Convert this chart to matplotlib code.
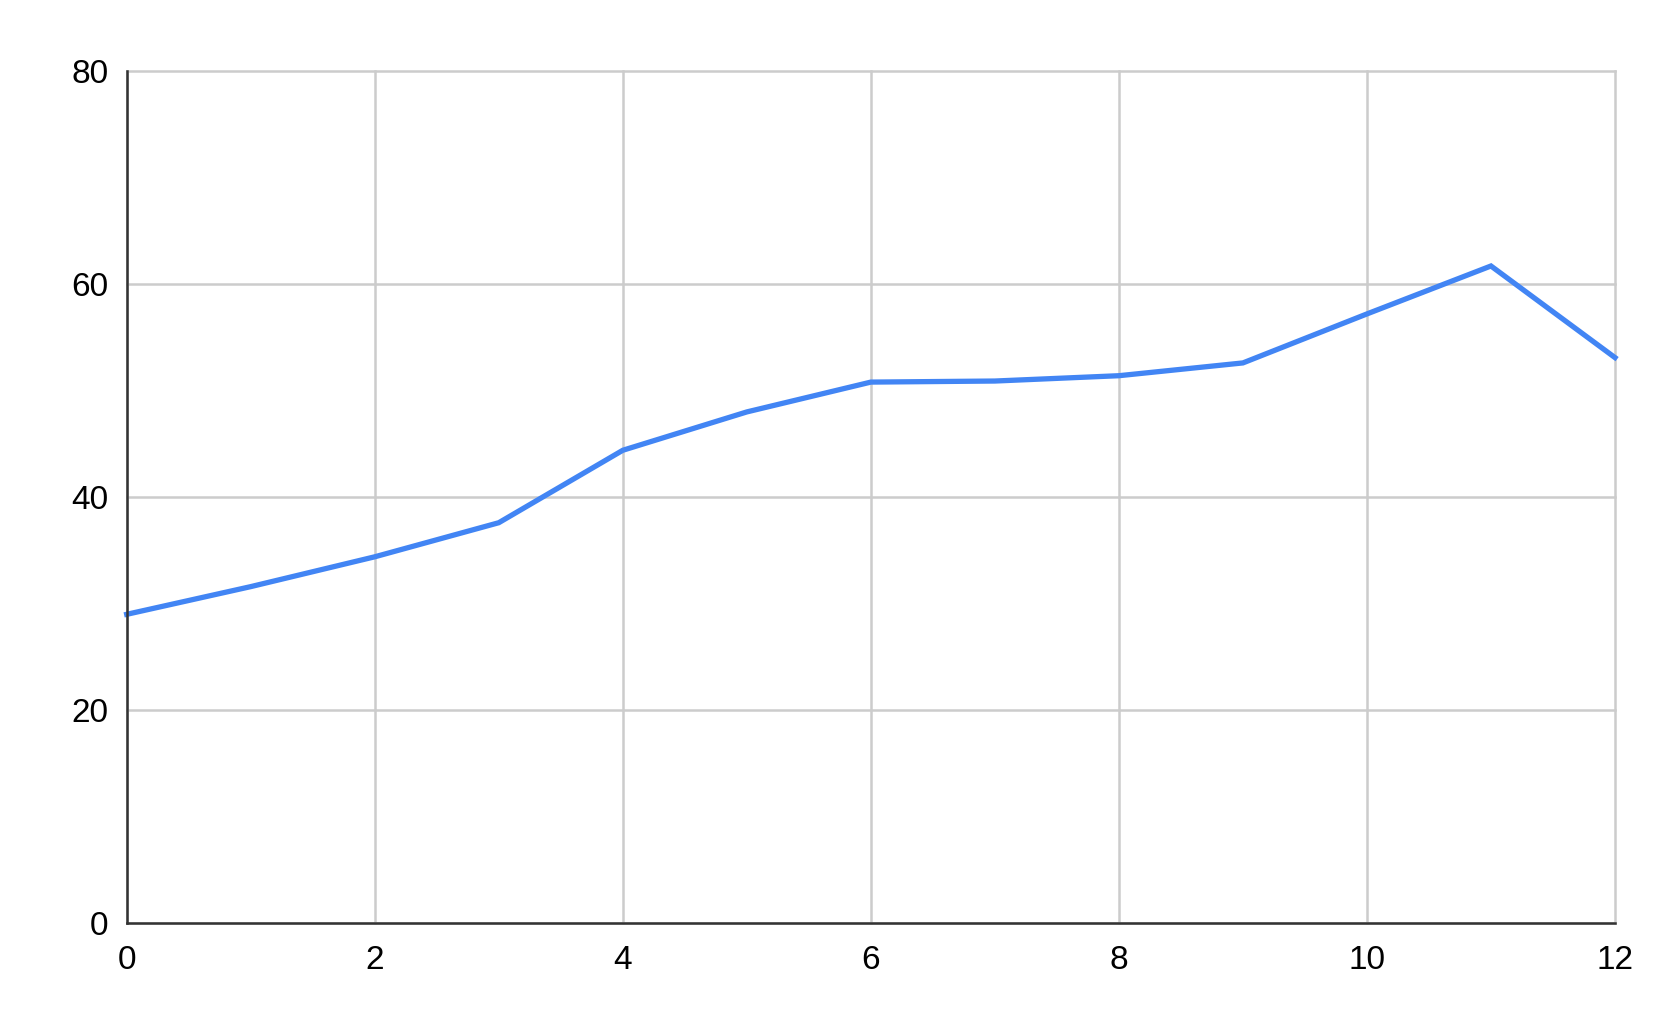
import matplotlib.pyplot as plt

plt.rcParams['font.family'] = ['Liberation Sans', 'DejaVu Sans']

x_vals = [0, 1, 2, 3, 4, 5, 6, 7, 8, 9, 10, 11, 12]
y_vals = [29.0, 31.6, 34.4, 37.6, 44.4, 48.0, 50.8, 50.9, 51.4, 52.6, 57.2, 61.7, 53.1]
x_ticks = [0, 2, 4, 6, 8, 10, 12]
y_ticks = [0, 20, 40, 60, 80]

fig = plt.figure(figsize=(16.67, 10.31), dpi=100)
ax = fig.add_axes([0.076, 0.1045, 0.8928, 0.8266])

ax.plot(x_vals, y_vals, color='#4285F4', linewidth=3.8, solid_joinstyle='miter', zorder=3,
        clip_on=False)

ax.set_xlim(0, 12)
ax.set_ylim(0, 80)
ax.set_xticks(x_ticks)
ax.set_yticks(y_ticks)
ax.grid(True, color='#cccccc', linewidth=1.8)
for gl in ax.get_xgridlines() + ax.get_ygridlines():
    gl.set_clip_on(False)
ax.set_axisbelow(True)
ax.tick_params(length=0, labelsize=24, colors='#000000')
ax.tick_params(axis='y', pad=13)
ax.tick_params(axis='x', pad=16)

for s in ['top', 'right']:
    ax.spines[s].set_visible(False)
for s in ['left', 'bottom']:
    ax.spines[s].set_color('#333333')
    ax.spines[s].set_linewidth(1.8)
    ax.spines[s].set_zorder(4)

fig.savefig('out.png', dpi=100)
